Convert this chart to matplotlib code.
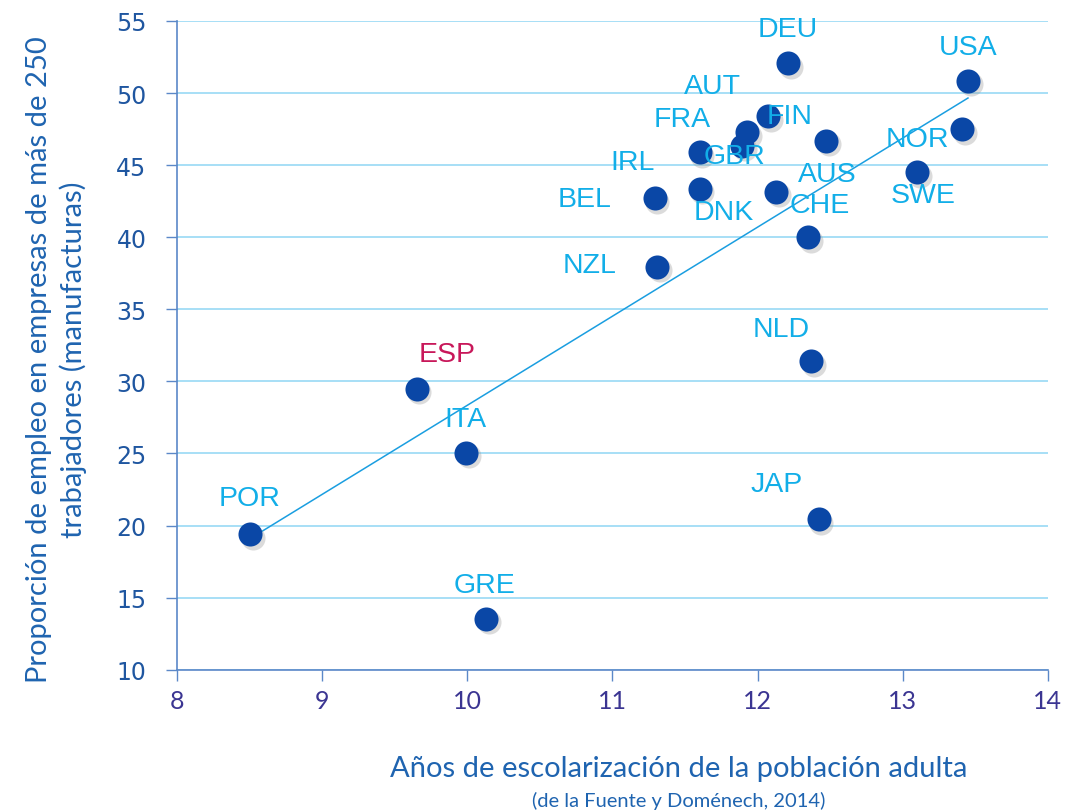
import numpy as np
import matplotlib
matplotlib.use("Agg")
import matplotlib.pyplot as plt

# datos
paises = ["POR", "ESP", "ITA", "GRE", "NZL", "BEL", "IRL", "FRA", "GBR", "AUT",
          "FIN", "DEU", "DNK", "AUS", "CHE", "NLD", "JAP", "SWE", "NOR", "USA"]
anos = [8.50, 9.65, 9.99, 10.13, 11.31, 11.29, 11.60, 11.60, 11.89, 11.93,
        12.07, 12.21, 12.13, 12.47, 12.35, 12.37, 12.42, 13.10, 13.41, 13.45]
empleo = [19.4, 29.5, 25.05, 13.55, 37.95, 42.7, 43.35, 45.9, 46.35, 47.3,
          48.4, 52.05, 43.15, 46.7, 40.0, 31.4, 20.45, 44.5, 47.5, 50.85]

# posiciones de las etiquetas (coordenadas de datos)
etiq_x = [8.50, 9.86, 9.99, 10.12, 10.84, 10.81, 11.14, 11.48, 11.84, 11.69,
          12.22, 12.21, 11.77, 12.48, 12.43, 12.16, 12.13, 13.14, 13.10, 13.45]
etiq_y = [21.9, 31.9, 27.4, 15.9, 38.1, 42.66, 45.2, 48.2, 45.6, 50.5,
          48.4, 54.45, 41.76, 44.4, 42.2, 33.6, 22.9, 42.9, 46.8, 53.2]

azul_punto = "#0a47a6"
azul_etiq = "#12aee8"
azul_eje = "#5b88c8"

fig = plt.figure(figsize=(10.67, 8.12), dpi=100)
ax = fig.add_axes([0.166, 0.174, 0.816, 0.799])

ax.set_xlim(8, 14)
ax.set_ylim(10, 55)
ax.set_yticks(range(10, 56, 5))
ax.set_xticks(range(8, 15))

ax.grid(axis="y", color="#8fd6f4", linewidth=1.1)
ax.set_axisbelow(True)
for s in ["top", "right"]:
    ax.spines[s].set_visible(False)
for s in ["left", "bottom"]:
    ax.spines[s].set_color(azul_eje)
    ax.spines[s].set_linewidth(1.2)

ax.tick_params(axis="y", colors=azul_eje, length=8, width=1, labelcolor="#1f56a0",
               labelsize=17, pad=14)
ax.tick_params(axis="x", colors=azul_eje, length=8, width=1, labelcolor="#3b3592",
               labelsize=18, pad=6)
for t in ax.get_xticklabels():
    t.set_fontfamily("Lato")

# linea de tendencia
m, b = np.polyfit(anos, empleo, 1)
xs = np.array([min(anos), max(anos)])
ax.plot(xs, m * xs + b, color="#1a9ee0", linewidth=1.1, zorder=2)

# sombra y puntos
ax.scatter(np.array(anos) + 0.02, np.array(empleo) - 0.25, s=300, color="#9a9a9a",
           alpha=0.35, linewidths=0, zorder=3)
ax.scatter(anos, empleo, s=300, color=azul_punto, linewidths=0, zorder=4)

for p, x, y in zip(paises, etiq_x, etiq_y):
    col = "#c8185a" if p == "ESP" else azul_etiq
    ax.text(x, y, p, ha="center", va="center", fontsize=20.5, color=col,
            fontfamily="Liberation Sans", zorder=5)

fig.text(0.053, 0.557,
         "Proporción de empleo en empresas de más de 250\ntrabajadores (manufacturas)",
         rotation=90, ha="center", va="center", fontsize=21, color="#1f64b0",
         fontfamily="Lato", linespacing=1.35, multialignment="center")
fig.text(0.636, 0.053, "Años de escolarización de la población adulta",
         ha="center", va="center", fontsize=21, color="#1f64b0", fontfamily="Lato")
fig.text(0.636, 0.013, "(de la Fuente y Doménech, 2014)",
         ha="center", va="center", fontsize=14.5, color="#1f64b0", fontfamily="Lato")

fig.savefig("out.png", dpi=100)
